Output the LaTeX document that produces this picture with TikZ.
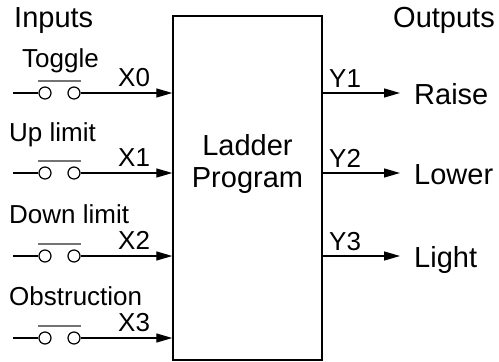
\documentclass[tikz,border=0pt]{standalone}
\usepackage{fontspec}
\setmainfont{Liberation Sans}
\usetikzlibrary{arrows.meta}

\begin{document}
\begin{tikzpicture}[x=1pt, y=-1pt,
    progbox/.style={draw, line width=1.4pt, minimum width=149pt, minimum height=344pt},
    contact/.style={draw, circle, minimum size=12pt, inner sep=0pt, line width=1.2pt},
    wire/.style={line width=1.3pt},
    arrow/.style={wire, -{Triangle[length=16pt, width=9pt]}},
    bar/.style={line width=1.2pt, black!55},
    lbl/.style={font=\fontsize{26}{30}\selectfont, inner sep=0pt},
    big/.style={font=\fontsize{29}{32}\selectfont, inner sep=0pt}
  ]
  \useasboundingbox (0,0) rectangle (499,362);

  \node[progbox] (prog) at (247.5,188) {};
  \node[big, align=center] (progtxt) at (247.5,164) {Ladder\\Program};

  % Headings
  \node[big, anchor=base west] (inputs) at (14,27) {Inputs};
  \node[big, anchor=base east] (outputs) at (495,27) {Outputs};

  % Input contacts
  \foreach \i/\y in {0/93, 1/173, 2/256, 3/338} {
    \coordinate (in\i) at (13,\y);
    \node[contact] (ca\i) at (45,\y) {};
    \node[contact] (cb\i) at (74,\y) {};
    \coordinate (x\i) at (prog.west |- in\i);
    \draw[wire] (in\i) -- (ca\i);
    \draw[arrow] (cb\i) -- (x\i);
    \draw[bar] ([yshift=12pt]ca\i.west) -- ([yshift=12pt]cb\i.east);
    \node[lbl, anchor=base west] (xl\i) at (118,\y-7) {X\i};
  }
  \node[lbl, anchor=base west] (n0) at (22,67) {Toggle};
  \node[lbl, anchor=base west] (n1) at (9,141) {Up limit};
  \node[lbl, anchor=base west] (n2) at (9,223) {Down limit};
  \node[lbl, anchor=base west] (n3) at (9,305) {Obstruction};

  % Outputs
  \foreach \i/\y/\name in {1/93/Raise, 2/173/Lower, 3/256/Light} {
    \coordinate (y\i) at (prog.east |- 0,\y);
    \coordinate (out\i) at (400,\y);
    \draw[arrow] (y\i) -- (out\i);
    \node[lbl, anchor=base west] (yl\i) at (329,\y-6) {Y\i};
    \node[big, anchor=base west] (on\i) at (414,\y+11) {\name};
  }
\end{tikzpicture}
\end{document}
